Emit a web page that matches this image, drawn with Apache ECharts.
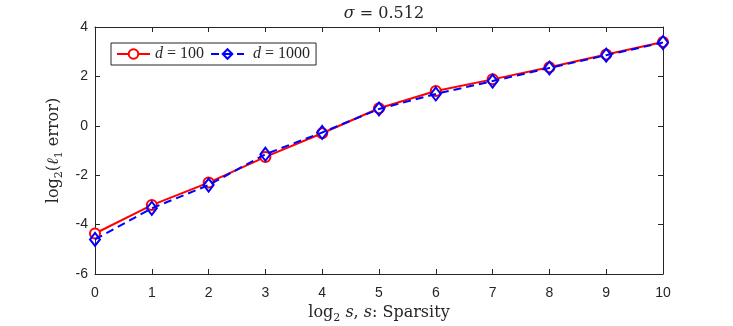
<!DOCTYPE html>
<html>
<head>
<meta charset="utf-8">
<script src="https://cdn.jsdelivr.net/npm/echarts@6/dist/echarts.min.js"></script>
<style>
  html, body { margin: 0; padding: 0; background: #fff; }
  #chart { width: 733px; height: 326px; }
</style>
</head>
<body>
<div id="chart"></div>
<script>
// log2 of sparsity
const sparsity = [0, 1, 2, 3, 4, 5, 6, 7, 8, 9, 10];
// log2(l1 error)
const errD100 = [-4.36, -3.21, -2.3, -1.26, -0.3, 0.71, 1.41, 1.88, 2.37, 2.89, 3.39];
const errD1000 = [-4.6, -3.34, -2.4, -1.15, -0.27, 0.68, 1.29, 1.81, 2.34, 2.86, 3.37];

const axisColor = '#262626';
const serif = '"DejaVu Serif", "Liberation Serif", serif';
const times = '"Liberation Serif", serif';
const sans = '"Liberation Sans", Arial, sans-serif';

const chart = echarts.init(document.getElementById('chart'));

const italic = { fontFamily: serif, fontStyle: 'italic', fontSize: 16, color: axisColor };
const sub = { fontFamily: serif, fontSize: 11, color: axisColor, verticalAlign: 'bottom', padding: [0, 0, -3, 0] };

function boxAxis(pos, isX) {
  return {
    type: 'value',
    position: pos,
    min: isX ? 0 : -6,
    max: isX ? 10 : 4,
    interval: isX ? 1 : 2,
    axisLine: { show: true, onZero: false, lineStyle: { color: axisColor, width: 1 } },
    axisTick: { show: true, inside: true, length: 5, lineStyle: { color: axisColor } },
    axisLabel: { show: false },
    splitLine: { show: false }
  };
}

chart.setOption({
  animation: false,
  backgroundColor: '#fff',
  title: {
    text: '{i|σ} = 0.512',
    left: 379,
    top: 1,
    textAlign: 'center',
    textStyle: { rich: { i: italic }, fontFamily: serif, fontSize: 16, color: axisColor, fontWeight: 'normal' }
  },
  grid: { left: 95, right: 70, top: 27, bottom: 52, outerBoundsMode: 'none' },
  legend: {
    left: 111,
    top: 43,
    orient: 'horizontal',
    itemWidth: 33,
    itemHeight: 12,
    itemGap: 6,
    padding: [3, 6, 3, 5],
    borderColor: axisColor,
    borderWidth: 1,
    borderRadius: 0,
    backgroundColor: '#fff',
    formatter: name => name === 'd100' ? '{i|d} = 100' : ' {i|d} = 1000',
    textStyle: { fontFamily: times, fontSize: 16, color: axisColor, rich: { i: { fontFamily: times, fontStyle: 'italic', fontSize: 16, color: axisColor } } },
    data: ['d100', 'd1000']
  },
  xAxis: [
    {
      type: 'value',
      position: 'bottom',
      min: 0, max: 10, interval: 1,
      name: 'log{s|2} {i|s}, {i|s}: Sparsity',
      nameLocation: 'middle',
      nameGap: 30,
      nameTextStyle: { fontFamily: serif, fontSize: 16, color: axisColor, rich: { i: italic, s: sub } },
      axisLine: { show: true, onZero: false, lineStyle: { color: axisColor, width: 1 } },
      axisTick: { show: true, inside: true, length: 5, lineStyle: { color: axisColor } },
      axisLabel: { fontFamily: sans, fontSize: 14, color: axisColor, margin: 12 },
      splitLine: { show: false }
    },
    boxAxis('top', true)
  ],
  yAxis: [
    {
      type: 'value',
      position: 'left',
      min: -6, max: 4, interval: 2,
      name: 'log{s|2}({i|ℓ}{s|1} error)',
      nameLocation: 'middle',
      nameGap: 25,
      nameTextStyle: { fontFamily: serif, fontSize: 16, color: axisColor, rich: { i: italic, s: sub } },
      axisLine: { show: true, onZero: false, lineStyle: { color: axisColor, width: 1 } },
      axisTick: { show: true, inside: true, length: 5, lineStyle: { color: axisColor } },
      axisLabel: { fontFamily: sans, fontSize: 14, color: axisColor, margin: 7 },
      splitLine: { show: false }
    },
    boxAxis('right', false)
  ],
  series: [
    {
      name: 'd100',
      type: 'line',
      data: sparsity.map((s, i) => [s, errD100[i]]),
      symbol: 'circle',
      symbolSize: 10,
      showAllSymbol: true,
      lineStyle: { color: '#ff0000', width: 2 },
      itemStyle: { color: '#fff', borderColor: '#ff0000', borderWidth: 2 },
      z: 2
    },
    {
      name: 'd1000',
      type: 'line',
      data: sparsity.map((s, i) => [s, errD1000[i]]),
      symbol: 'diamond',
      symbolSize: [10, 13],
      showAllSymbol: true,
      lineStyle: { color: '#0000ff', width: 2, type: [8, 5] },
      itemStyle: { color: 'rgba(255,255,255,0)', borderColor: '#0000ff', borderWidth: 2 },
      z: 3
    }
  ]
});
</script>
</body>
</html>
